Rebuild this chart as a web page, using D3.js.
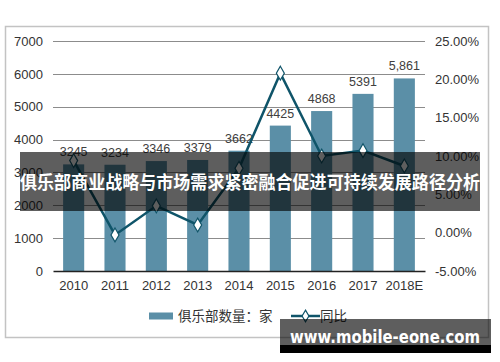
<!DOCTYPE html>
<html><head><meta charset="utf-8">
<script src="https://cdn.jsdelivr.net/npm/d3@7/dist/d3.min.js"></script>
<style>body{margin:0;background:#fff}svg{display:block}</style>
</head><body><svg id="c" width="500" height="362"></svg>
<script>
const categories = ["2010","2011","2012","2013","2014","2015","2016","2017","2018E"];
const clubCounts = [3245,3234,3346,3379,3662,4425,4868,5391,5861];
const countLabels = ["3245","3234","3346","3379","3662","4425","4868","5391","5,861"];
const yoyGrowth = [9.4,-0.3,3.5,1.0,8.4,20.8,10.0,10.7,8.7];
const leftTicks = [0,1000,2000,3000,4000,5000,6000,7000];
const rightTicks = [-5,0,5,10,15,20,25];
const barName = "俱乐部数量：家";
const lineName = "同比";
const bannerText = "俱乐部商业战略与市场需求紧密融合促进可持续发展路径分析";
const watermark = "www.mobile-eone.com";

const svg = d3.select("#c");
const L = 53, R = 425, T = 41, B = 271;
const x = d3.scaleBand().domain(categories).range([L, R]).paddingInner(0.49).paddingOuter(0.245);
const y = d3.scaleLinear().domain([0,7000]).range([B, T]);
const y2 = d3.scaleLinear().domain([-5,25]).range([B, T]);
const font = "'Liberation Sans', Arial, sans-serif";
const cjk = "'Noto Sans CJK SC', sans-serif";

// chart border
svg.append("rect").attr("x",5.5).attr("y",26.5).attr("width",483).attr("height",311)
  .attr("fill","#fff").attr("stroke","#c3c3c3").attr("stroke-width",1.5);

// gridlines
svg.append("g").selectAll("line").data(leftTicks.filter(d=>d>0)).join("line")
  .attr("x1",L).attr("x2",R).attr("y1",d=>Math.round(y(d))+0.5).attr("y2",d=>Math.round(y(d))+0.5)
  .attr("stroke","#8c8c8c").attr("stroke-width",1);

// left axis
const ga = svg.append("g").attr("transform",`translate(${L},0)`)
  .call(d3.axisLeft(y).tickValues(leftTicks).tickSize(0).tickPadding(10).tickFormat(d3.format("d")));
ga.select(".domain").remove();
ga.selectAll("text").attr("font-family",font).attr("font-size",13).attr("fill","#333");

// right axis
const gr = svg.append("g").attr("transform",`translate(${R},0)`)
  .call(d3.axisRight(y2).tickValues(rightTicks).tickSize(0).tickPadding(10).tickFormat(d=>d.toFixed(2)+"%"));
gr.select(".domain").remove();
gr.selectAll("text").attr("font-family",font).attr("font-size",13).attr("fill","#333");

// bars
svg.append("g").selectAll("rect").data(clubCounts).join("rect")
  .attr("x",(d,i)=>x(categories[i])).attr("width",x.bandwidth())
  .attr("y",d=>y(d)).attr("height",d=>B-y(d)).attr("fill","#5b8fa7");

// x axis
const gx = svg.append("g").attr("transform",`translate(0,${B})`)
  .call(d3.axisBottom(x).tickSize(0).tickPadding(10));
gx.select(".domain").attr("stroke","#222").attr("stroke-width",1.5);
gx.selectAll("text").attr("font-family",font).attr("font-size",13).attr("fill","#333");

// data labels
svg.append("g").selectAll("text").data(clubCounts).join("text")
  .attr("x",(d,i)=>x(categories[i])+x.bandwidth()/2).attr("y",d=>y(d)-8)
  .attr("text-anchor","middle").attr("font-family",font).attr("font-size",12.5).attr("fill","#404040")
  .text((d,i)=>countLabels[i]);

// line
const cx = (d,i)=>x(categories[i])+x.bandwidth()/2;
svg.append("path").datum(yoyGrowth)
  .attr("d",d3.line().x(cx).y(d=>y2(d)))
  .attr("fill","none").attr("stroke","#0f5469").attr("stroke-width",2.5);
const diamond = d3.symbol().type(d3.symbolDiamond).size(55);
svg.append("g").selectAll("path").data(yoyGrowth).join("path")
  .attr("transform",(d,i)=>`translate(${cx(d,i)},${y2(d)})`)
  .attr("d",diamond()).attr("fill","#fff").attr("stroke","#0f5469").attr("stroke-width",1.2);

// legend
const ly = 316;
svg.append("rect").attr("x",149).attr("y",ly-3.5).attr("width",24).attr("height",7).attr("fill","#5b8fa7");
svg.append("text").attr("x",178).attr("y",ly+4.5).attr("font-family",cjk).attr("font-size",13.5).attr("fill","#333").text(barName);
svg.append("line").attr("x1",291).attr("x2",320).attr("y1",ly).attr("y2",ly).attr("stroke","#0f5469").attr("stroke-width",2.5);
svg.append("path").attr("transform",`translate(305.5,${ly})`).attr("d",d3.symbol().type(d3.symbolDiamond).size(40)())
  .attr("fill","#fff").attr("stroke","#0f5469").attr("stroke-width",1.2);
svg.append("text").attr("x",320).attr("y",ly+4.5).attr("font-family",cjk).attr("font-size",13.5).attr("fill","#333").text(lineName);

// banner overlay
svg.append("rect").attr("x",20).attr("y",152).attr("width",460).attr("height",59).attr("fill","rgba(0,0,0,0.63)");
svg.append("text").attr("x",250).attr("y",189).attr("text-anchor","middle")
  .attr("font-family",cjk).attr("font-weight","bold").attr("font-size",17.7).attr("fill","#fff")
  .attr("textLength",460).attr("lengthAdjust","spacingAndGlyphs").text(bannerText);

// watermark
svg.append("rect").attr("x",280).attr("y",319).attr("width",211).attr("height",26).attr("fill","rgba(0,0,0,0.63)");
svg.append("rect").attr("x",280).attr("y",345).attr("width",211).attr("height",8).attr("fill","#000");
svg.append("text").attr("x",290).attr("y",342.5)
  .attr("font-family","'DejaVu Sans', sans-serif").attr("font-weight","bold").attr("font-size",17).attr("fill","#fff")
  .attr("textLength",190).attr("lengthAdjust","spacingAndGlyphs").text(watermark);
</script></body></html>
